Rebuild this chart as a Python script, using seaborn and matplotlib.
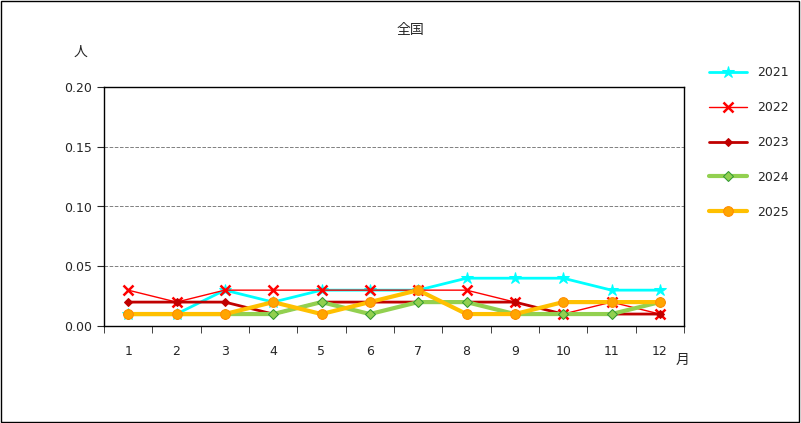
import matplotlib
matplotlib.use("Agg")
import matplotlib.pyplot as plt
import seaborn as sns
import numpy as np
import pandas as pd
from matplotlib.ticker import FixedLocator

months = list(range(1, 13))
v2021 = [0.01, 0.01, 0.03, 0.02, 0.03, 0.03, 0.03, 0.04, 0.04, 0.04, 0.03, 0.03]
v2022 = [0.03, 0.02, 0.03, 0.03, 0.03, 0.03, 0.03, 0.03, 0.02, 0.01, 0.02, 0.01]
v2023 = [0.02, 0.02, 0.02, 0.01, 0.02, 0.02, 0.02, 0.02, 0.02, 0.01, 0.01, 0.01]
v2024 = [0.01, 0.01, 0.01, 0.01, 0.02, 0.01, 0.02, 0.02, 0.01, 0.01, 0.01, 0.02]
v2025 = [0.01, 0.01, 0.01, 0.02, 0.01, 0.02, 0.03, 0.01, 0.01, 0.02, 0.02, 0.02]

sns.set_style("white")
plt.rcParams["font.family"] = ["DejaVu Sans", "Noto Sans CJK JP"]

fig = plt.figure(figsize=(8.01, 4.23), dpi=100)
fig.patches.append(plt.Rectangle((0.001, 0.002), 0.997, 0.996, transform=fig.transFigure,
                                 fill=False, edgecolor="black", linewidth=1))
ax = fig.add_axes([104 / 801, 1 - 326 / 423, 580 / 801, 239 / 423])

styles = [
    ("2021", v2021, dict(color="#00FFFF", lw=2, marker="*", ms=9, mfc="#00FFFF", mec="#00FFFF")),
    ("2022", v2022, dict(color="#FF0000", lw=1, marker="x", ms=7, mew=1.8, mec="#FF0000")),
    ("2023", v2023, dict(color="#C00000", lw=2, marker="D", ms=4, mfc="#C00000", mec="#C00000")),
    ("2024", v2024, dict(color="#92D050", lw=3, marker="D", ms=5, mfc="#92D050", mec="#339933")),
    ("2025", v2025, dict(color="#FFC000", lw=3, marker="o", ms=7, mfc="#FFA500", mec="#FF8C00")),
]
for name, vals, kw in styles:
    df = pd.DataFrame({"month": months, "value": vals})
    sns.lineplot(data=df, x="month", y="value", ax=ax, label=name, linestyle="-", **kw)

ax.set_xlim(0.5, 12.5)
ax.set_ylim(0, 0.2)
ax.set_yticks([0, 0.05, 0.10, 0.15, 0.20])
ax.set_yticklabels(["0.00", "0.05", "0.10", "0.15", "0.20"])
ax.set_xticks(months)
ax.set_xticklabels([str(m) for m in months])
ax.xaxis.set_minor_locator(FixedLocator(np.arange(0.5, 13, 1)))
ax.tick_params(axis="x", which="major", length=0, pad=14)
ax.tick_params(axis="x", which="minor", length=5, direction="out", bottom=True)
ax.tick_params(axis="y", length=5, direction="out", left=True)
ax.tick_params(labelsize=9)
ax.grid(axis="y", color="gray", linestyle="--", linewidth=0.7)
ax.set_axisbelow(True)
for s in ax.spines.values():
    s.set_color("black")
    s.set_linewidth(1)
ax.set_xlabel("")
ax.set_ylabel("")

fig.text(410 / 801, 1 - 30 / 423, "全国", ha="center", va="center", fontsize=10)
fig.text(80 / 801, 1 - 52 / 423, "人", ha="center", va="center", fontsize=10)
fig.text(683 / 801, 1 - 360 / 423, "月", ha="center", va="center", fontsize=10)

ax.legend(loc="upper left", bbox_to_anchor=(698 / 801, 1 - 55 / 423), bbox_transform=fig.transFigure,
          frameon=False, labelspacing=1.75, handlelength=3, fontsize=9)

fig.savefig("out.png", dpi=100)
